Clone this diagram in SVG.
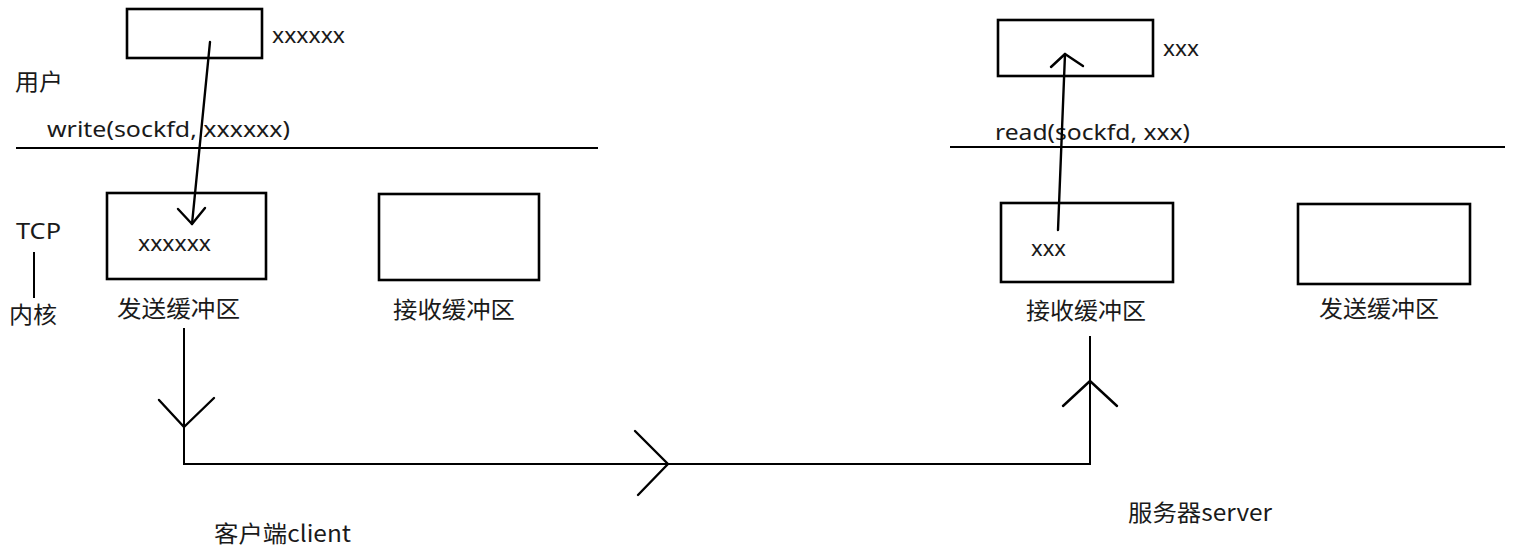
<svg xmlns="http://www.w3.org/2000/svg" width="1516" height="556" viewBox="0 0 1516 556">
<style>
.t{font-family:"Noto Sans","Noto Sans CJK SC",sans-serif;font-size:21px;fill:#1a1a1a}
.c{font-family:"Noto Sans CJK SC",sans-serif;font-size:23px;fill:#1a1a1a}
.box{fill:#fff;stroke:#000;stroke-width:2.6}
.ln{fill:none;stroke:#000;stroke-width:2}
.ar{fill:none;stroke:#000;stroke-width:2.4;stroke-linecap:round;stroke-linejoin:round}
</style>
<rect width="1516" height="556" fill="#fff"/>
<g id="labels">
<text class="c" x="15" y="90" textLength="48" lengthAdjust="spacingAndGlyphs">用户</text>
<text class="t" x="16" y="239" font-size="24" textLength="45" lengthAdjust="spacingAndGlyphs">TCP</text>
<line class="ln" x1="34" y1="252" x2="34" y2="298" stroke-width="2.5"/>
<text class="c" x="9" y="323" textLength="48" lengthAdjust="spacingAndGlyphs">内核</text>
<text class="t" x="47" y="137" textLength="243" lengthAdjust="spacingAndGlyphs">write(sockfd, xxxxxx)</text>
<text class="t" x="995" y="140" textLength="195" lengthAdjust="spacingAndGlyphs">read(sockfd, xxx)</text>
<text class="c" x="214" y="542" font-size="21" textLength="137" lengthAdjust="spacingAndGlyphs">客户端client</text>
<text class="c" x="1128" y="521" font-size="21" textLength="144" lengthAdjust="spacingAndGlyphs">服务器server</text>
</g>
<g id="dividers">
<line class="ln" x1="16" y1="148" x2="598" y2="148"/>
<line class="ln" x1="950" y1="147" x2="1505" y2="147"/>
</g>
<g id="client-user-buf">
<rect class="box" x="127" y="9" width="135" height="49"/>
<text class="t" x="272" y="43" textLength="73" lengthAdjust="spacingAndGlyphs">xxxxxx</text>
</g>
<g id="client-send-buf">
<rect class="box" x="107" y="193" width="159" height="86"/>
<text class="t" x="138" y="251" textLength="73" lengthAdjust="spacingAndGlyphs">xxxxxx</text>
<text class="c" x="117" y="317" textLength="123" lengthAdjust="spacingAndGlyphs">发送缓冲区</text>
</g>
<g id="client-recv-buf">
<rect class="box" x="379" y="194" width="160" height="86"/>
<text class="c" x="393" y="318" textLength="122" lengthAdjust="spacingAndGlyphs">接收缓冲区</text>
</g>
<g id="server-user-buf">
<rect class="box" x="998" y="20" width="155" height="56"/>
<text class="t" x="1163" y="56" textLength="36" lengthAdjust="spacingAndGlyphs">xxx</text>
</g>
<g id="server-recv-buf">
<rect class="box" x="1001" y="203" width="172" height="79"/>
<text class="t" x="1031" y="256" textLength="35" lengthAdjust="spacingAndGlyphs">xxx</text>
<text class="c" x="1026" y="319" textLength="120" lengthAdjust="spacingAndGlyphs">接收缓冲区</text>
</g>
<g id="server-send-buf">
<rect class="box" x="1298" y="204" width="172" height="80"/>
<text class="c" x="1319" y="317" textLength="120" lengthAdjust="spacingAndGlyphs">发送缓冲区</text>
</g>
<g id="connectors">
<line class="ar" x1="210" y1="42" x2="192" y2="224"/>
<polyline class="ar" points="178,209 192,224 205,208"/>
<line class="ar" x1="1058" y1="230" x2="1065" y2="54"/>
<polyline class="ar" points="1051,67 1065,54 1083,66"/>
<polyline class="ln" points="184,328 184,464 1090,464 1090,336" stroke-width="2.6"/>
<polyline class="ar" points="159,400 184,427 214,398" stroke-width="2.8"/>
<polyline class="ar" points="635,431 668,464 638,495" stroke-width="2.8"/>
<polyline class="ar" points="1063,406 1090,381 1117,406" stroke-width="2.8"/>
</g>
</svg>
